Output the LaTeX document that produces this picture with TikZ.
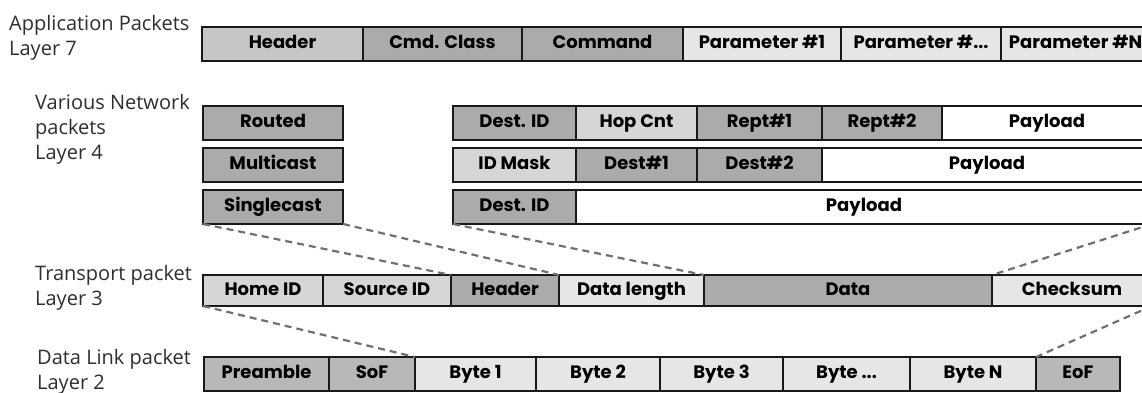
\documentclass[tikz,border=0pt]{standalone}
\usepackage{fontspec}
\newfontfamily\labfont{Open Sans}
\newfontfamily\boxfont{Poppins}
\usetikzlibrary{backgrounds}
\definecolor{cdk}{HTML}{ABABAB}
\definecolor{cdm}{HTML}{B8B8B8}
\definecolor{cmd}{HTML}{C6C6C6}
\definecolor{clt}{HTML}{D6D6D6}
\definecolor{cvl}{HTML}{E6E6E6}
\definecolor{dashc}{HTML}{707070}
\definecolor{labc}{HTML}{2E2E2E}
\tikzset{
  cell/.style={draw=black!90, line width=2pt, inner sep=0pt, outer sep=0pt,
    anchor=north west, text height=13pt, text depth=3.7pt,
    font=\boxfont\bfseries\fontsize{18}{18}\selectfont},
  lab/.style={anchor=base west, inner sep=0pt, align=left, text=labc,
    font=\labfont\fontsize{20}{25}\selectfont},
  dashline/.style={draw=dashc, line width=2.2pt, dash pattern=on 7pt off 5pt},
  fan/.style={top color=black!6, bottom color=black!30, draw=none}
}
\newcommand\cell[7]{\node[cell, fill=#2, minimum width={(#4)-(#3)}, minimum height={(#6)-(#5)}] (#1) at (#3,#5) {#7};}
\begin{document}
\begin{tikzpicture}[x=1pt,y=-1pt]
\useasboundingbox[fill=white] (0,0) rectangle (1142,393);
\clip (0,0) rectangle (1142,393);
% labels (base = last line)
\node[lab] (l7) at (9,56) {Application Packets\\Layer 7};
\node[lab] (l4) at (35,159) {Various Network\\packets\\Layer 4};
\node[lab] (l3) at (35,305) {Transport packet\\Layer 3};
\node[lab] (l2) at (37,389) {Data Link packet\\Layer 2};
% layer 7
\cell{hdr7}{cmd}{202}{363}{27}{61}{Header}
\cell{cls7}{cdk}{363}{522}{27}{61}{Cmd. Class}
\cell{cmd7}{cdk}{522}{683}{27}{61}{Command}
\cell{par1}{cvl}{683}{841}{27}{61}{Parameter \#1}
\cell{par2}{cvl}{841}{1001}{27}{61}{Parameter \#...}
\cell{parn}{cvl}{1001}{1150}{27}{61}{Parameter \#N}
% layer 4
\cell{routed}{cdk}{203}{343}{106}{140}{Routed}
\cell{multi}{cdk}{203}{343}{148}{182}{Multicast}
\cell{single}{cdk}{203}{343}{190}{224}{Singlecast}
\cell{desta}{cdk}{453}{576}{106}{140}{Dest. ID}
\cell{hop}{clt}{576}{697}{106}{140}{Hop Cnt}
\cell{rept1}{cdk}{697}{822}{106}{140}{Rept\#1}
\cell{rept2}{cdk}{822}{942}{106}{140}{Rept\#2}
\cell{paya}{white}{942}{1152}{106}{140}{Payload}
\cell{idmask}{clt}{453}{576}{148}{182}{ID Mask}
\cell{dest1}{cdk}{576}{697}{148}{182}{Dest\#1}
\cell{dest2}{cdk}{697}{822}{148}{182}{Dest\#2}
\cell{payb}{white}{822}{1152}{148}{182}{Payload}
\cell{destc}{cdk}{453}{576}{190}{224}{Dest. ID}
\cell{payc}{white}{576}{1152}{190}{224}{Payload}
% layer 3
\cell{home}{clt}{203}{323}{275}{306}{Home ID}
\cell{src}{clt}{323}{451}{275}{306}{Source ID}
\cell{hdr3}{cdk}{451}{559}{275}{306}{Header}
\cell{dlen}{cvl}{559}{704}{275}{306}{Data length}
\cell{data}{cdk}{704}{992}{275}{306}{Data}
\cell{chk}{cvl}{992}{1152}{275}{306}{Checksum}
% layer 2
\cell{pre}{cdm}{204}{329}{357}{391}{Preamble}
\cell{sof}{cdm}{329}{415}{357}{391}{SoF}
\cell{b1}{cvl}{415}{536}{357}{391}{Byte 1}
\cell{b2}{cvl}{536}{660}{357}{391}{Byte 2}
\cell{b3}{cvl}{660}{783}{357}{391}{Byte 3}
\cell{bd}{cvl}{783}{910}{357}{391}{Byte ...}
\cell{bn}{cvl}{910}{1036}{357}{391}{Byte N}
\cell{eof}{cdm}{1036}{1120}{357}{391}{EoF}
% fans
\begin{scope}[on background layer]
\fill[fan] (single.south west) -- (single.south east) -- (hdr3.north east) -- (hdr3.north west) -- cycle;
\fill[fan] (destc.south west) -- (payc.south east) -- (data.north east) -- (data.north west) -- cycle;
\fill[fan] (home.south west) -- (chk.south east) -- (eof.north west) -- (b1.north west) -- cycle;
\end{scope}
\draw[dashline] (single.south west) -- (hdr3.north west);
\draw[dashline] (single.south east) -- (hdr3.north east);
\draw[dashline] (destc.south west) -- (data.north west);
\draw[dashline] (payc.south east) -- (data.north east);
\draw[dashline] (home.south west) -- (b1.north west);
\draw[dashline] (chk.south east) -- (eof.north west);
\end{tikzpicture}
\end{document}
